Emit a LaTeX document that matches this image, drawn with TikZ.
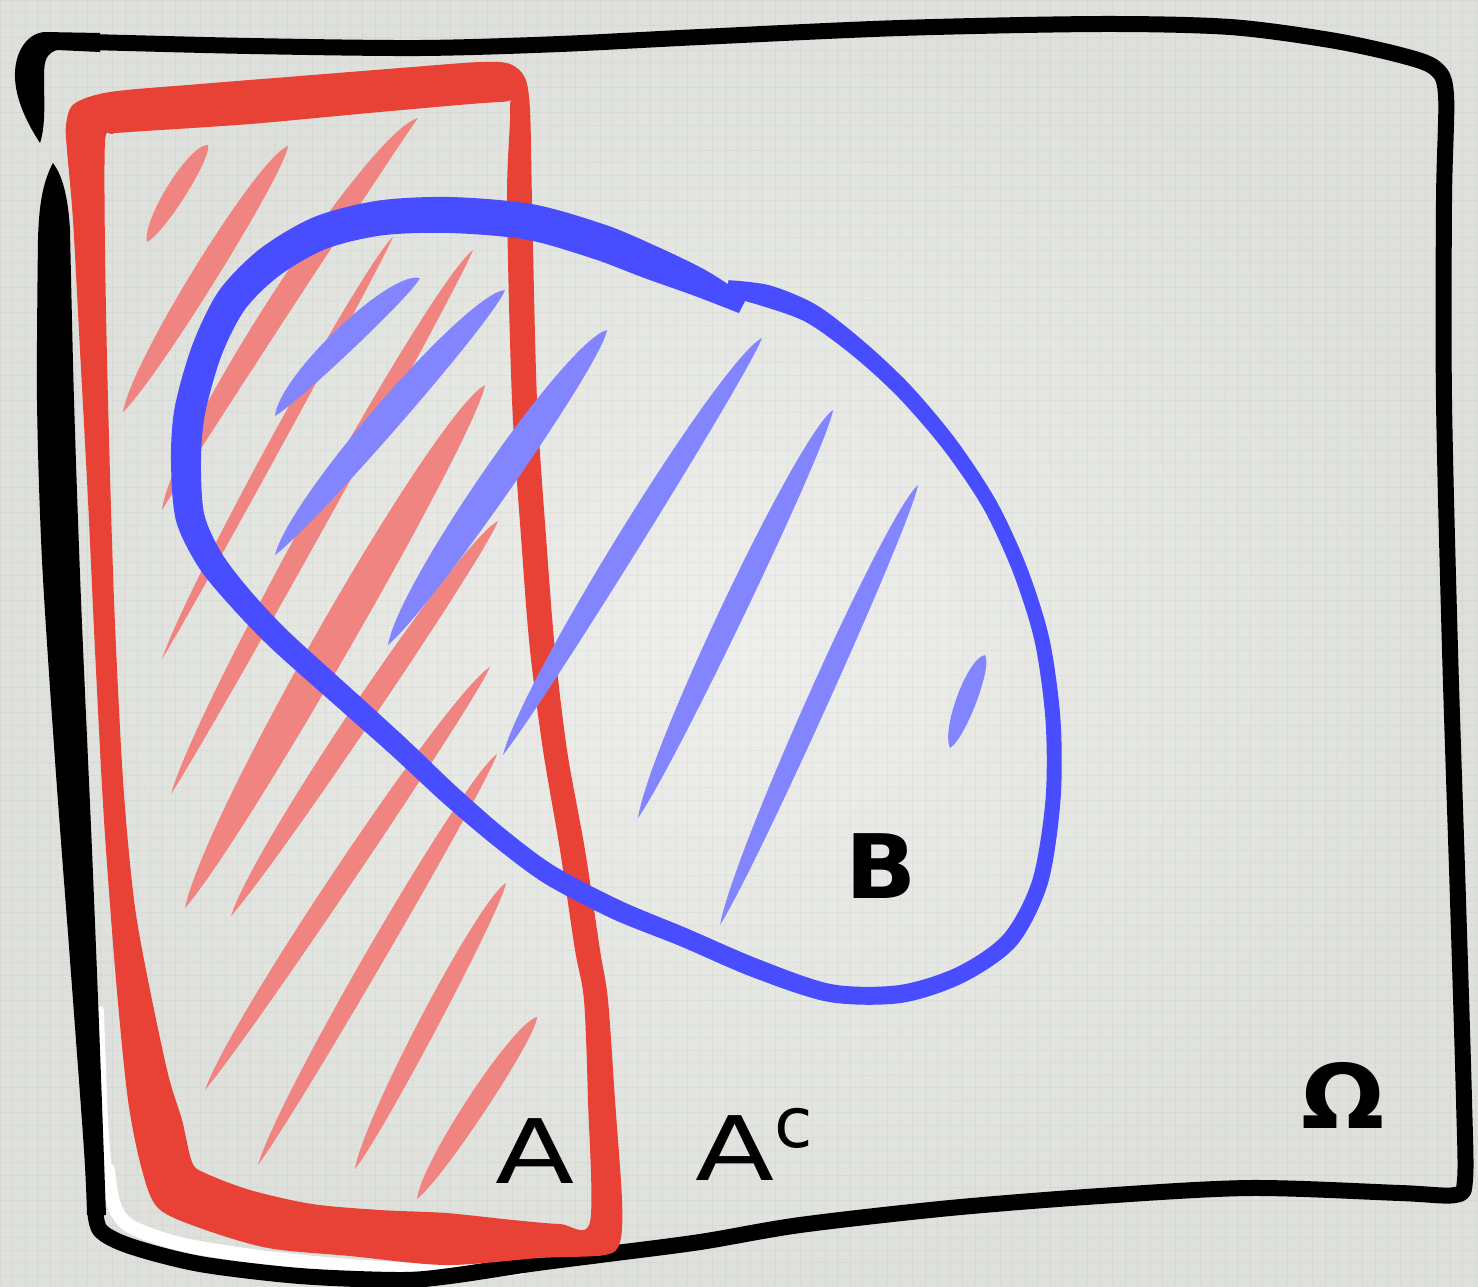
\documentclass[tikz,border=0pt]{standalone}
\usepackage{fontspec}
\newfontfamily\hand{DejaVu Sans}
\usetikzlibrary{calc}
\definecolor{bgin}{HTML}{EEEFEC}
\definecolor{bgout}{HTML}{DEE0DB}
\definecolor{redA}{HTML}{E84135}
\definecolor{pinkA}{HTML}{EF8480}
\definecolor{blueB}{HTML}{484DFF}
\definecolor{lblue}{HTML}{8385FF}
% tapered brush stroke: colour, upper end, lower end, max thickness, bend
\newcommand{\hatchstroke}[5]{%
 \pgfmathsetmacro\hsup{#5+#4/1.5}%
 \pgfmathsetmacro\hsdn{#5-#4/1.5}%
 \fill[#1] (#2) .. controls ($(#2)!0.08!(#3)!\hsup pt!90:(#3)$) and ($(#2)!0.85!(#3)!\hsup pt!90:(#3)$) .. (#3)
   .. controls ($(#2)!0.85!(#3)!\hsdn pt!90:(#3)$) and ($(#2)!0.08!(#3)!\hsdn pt!90:(#3)$) .. cycle;%
}
\tikzset{
  frameline/.style={draw=black, line width=16, line cap=round, line join=round},
  gridline/.style={draw=black, opacity=0.03, line width=0.8},
  lbl/.style={font=\hand\fontsize{89}{89}\selectfont, inner sep=0pt, text=black, anchor=base}
}
\begin{document}
\begin{tikzpicture}[x=1pt,y=-1pt]
\useasboundingbox (0,0) rectangle (1478,1286);
\shade[inner color=bgin, outer color=bgout] (0,0) rectangle (1478,1286);
\draw[gridline, step=12.5pt] (0,0) grid (1478,1286);

% white highlight at lower left
\draw[white, line width=8, line cap=round] plot[smooth, tension=0.5] coordinates {(100,1010) (104,1120) (110,1195)};
\draw[white, line width=14, line cap=round] plot[smooth, tension=0.5] coordinates {(108,1170) (114,1205) (130,1226) (180,1244) (260,1257) (350,1266) (450,1271) (520,1268)};

% ---- Omega frame ----
\fill[black] (40,143) .. controls (25,120) and (14,95) .. (15,72) .. controls (16,50) and (28,33) .. (45,32) -- (100,33) -- (100,52) -- (57,50) .. controls (47,53) and (44,60) .. (44,75) .. controls (44,100) and (46,125) .. (40,143) -- cycle;
\draw[frameline] plot[smooth, tension=0.5] coordinates {(90,42) (250,46) (420,48) (560,44) (700,37) (900,28) (1100,24) (1230,27) (1330,40) (1400,55) (1435,68) (1446,95) (1444,200) (1444,400) (1450,650) (1458,900) (1464,1100) (1465,1180) (1455,1195) (1400,1193) (1250,1188) (1100,1196) (950,1208) (800,1225) (700,1242) (600,1255) (530,1264) (450,1276) (400,1280) (300,1276) (200,1264) (130,1246) (100,1230) (95,1205)};
\fill[black] (53,163) .. controls (44,180) and (39,200) .. (38,240)
  -- plot[smooth] coordinates {(38,240) (37,400) (42,560) (55,760) (70,960) (84,1150) (87,1215)}
  -- (106,1215)
  -- plot[smooth] coordinates {(106,1215) (100,1050) (92,850) (81,600) (74,400) (70,230)}
  .. controls (68,195) and (62,175) .. (53,163) -- cycle;

% ---- pink hatching of A ----
\hatchstroke{pinkA}{208,145}{147,242}{20}{-3}
\hatchstroke{pinkA}{288,146}{123,412}{24}{-4}
\hatchstroke{pinkA}{418,118}{162,510}{24}{-18}
\hatchstroke{pinkA}{393,237}{162,659}{13}{-5}
\hatchstroke{pinkA}{473,250}{171,794}{21}{-8}
\hatchstroke{pinkA}{485,385}{185,908}{36}{-6}
\hatchstroke{pinkA}{498,521}{231,916}{23}{-6}
\hatchstroke{pinkA}{490,667}{205,1090}{21}{-6}
\hatchstroke{pinkA}{497,754}{258,1165}{19}{-5}
\hatchstroke{pinkA}{506,883}{355,1169}{19}{-4}
\hatchstroke{pinkA}{537,1017}{417,1199}{21}{-3}

% ---- red outline of A ----
\fill[redA, even odd rule]
 plot[smooth cycle, tension=0.5] coordinates {(66,125) (74,104) (110,92) (200,84) (300,76) (400,68) (480,62) (510,64) (525,78) (530,110) (532,200) (537,400) (547,550) (555,650) (567,750) (585,850) (600,950) (608,1000) (615,1100) (622,1200) (620,1242) (605,1255) (540,1258) (446,1265) (350,1256) (268,1248) (200,1228) (158,1208) (142,1170) (128,1100) (116,980) (104,820) (95,650) (88,500) (80,350) (73,220) (67,150)}
 plot[smooth cycle, tension=0.5] coordinates {(105,142) (112,134) (130,132) (250,124) (380,112) (500,102) (510,108) (507,200) (512,400) (522,550) (530,650) (543,750) (560,850) (575,950) (584,1000) (588,1100) (590,1222) (560,1224) (513,1220) (446,1213) (380,1210) (312,1204) (250,1190) (205,1173) (192,1162) (182,1120) (168,1074) (148,980) (134,900) (123,780) (114,600) (108,400) (105,250)};

% ---- light blue hatching of B ----
\hatchstroke{lblue}{420,278}{275,416}{25}{-10}
\hatchstroke{lblue}{505,290}{275,555}{29}{-8}
\hatchstroke{lblue}{607,330}{388,645}{32}{-6}
\hatchstroke{lblue}{762,338}{503,755}{24}{-8}
\hatchstroke{lblue}{833,410}{638,818}{24}{-5}
\hatchstroke{lblue}{918,485}{720,925}{21}{-4}
\hatchstroke{lblue}{985,655}{950,748}{20}{-2}

% ---- blue outline of B : variable-width brush band ----
\foreach \i/\x/\y in {1/743/305, 2/700/283, 3/650/262, 4/600/242, 5/530/222, 6/450/215, 7/380/218, 8/320/233, 9/270/262, 10/232/300,
  11/207/350, 12/190/410, 13/186/460, 14/190/517, 15/210/560, 16/240/598, 17/280/640, 18/350/703, 19/400/748, 20/450/795,
  21/500/838, 22/550/875, 23/617/910, 24/683/937, 25/755/968, 26/830/993, 27/900/994, 28/960/975, 29/1010/940, 30/1040/882,
  31/1053/800, 32/1053/720, 33/1042/640, 34/1020/570, 35/990/505, 36/950/445, 37/905/392, 38/860/350, 39/812/314, 40/767/296, 41/727/288}
  {\coordinate (P\i) at (\x,\y);}
\foreach \i/\h in {1/9, 2/14, 3/17, 4/18, 5/18, 6/18, 7/17.5, 8/17, 9/16.5, 10/16, 11/15.5, 12/15.5, 13/15, 14/14.5, 15/13.5, 16/12.5,
  17/12, 18/11.5, 19/11, 20/10.5, 21/10, 22/10, 23/10, 24/9.5, 25/9.5, 26/9, 27/9, 28/8.5, 29/8.5, 30/8, 31/7.5, 32/7.5, 33/7.5,
  34/7.5, 35/7.5, 36/8, 37/8.5, 38/9, 39/10, 40/11, 41/8}
  {\pgfmathtruncatemacro\pp{max(\i-1,1)}
   \pgfmathtruncatemacro\nn{min(\i+1,41)}
   \coordinate (O\i) at ($(P\i)!\h pt!90:($(P\i)+(P\nn)-(P\pp)$)$);
   \coordinate (I\i) at ($(P\i)!\h pt!-90:($(P\i)+(P\nn)-(P\pp)$)$);}
\fill[blueB] plot[smooth, tension=0.5] coordinates {(O1) (O2) (O3) (O4) (O5) (O6) (O7) (O8) (O9) (O10) (O11) (O12) (O13) (O14) (O15) (O16) (O17) (O18) (O19) (O20) (O21) (O22) (O23) (O24) (O25) (O26) (O27) (O28) (O29) (O30) (O31) (O32) (O33) (O34) (O35) (O36) (O37) (O38) (O39) (O40) (O41)}
  -- plot[smooth, tension=0.5] coordinates {(I41) (I40) (I39) (I38) (I37) (I36) (I35) (I34) (I33) (I32) (I31) (I30) (I29) (I28) (I27) (I26) (I25) (I24) (I23) (I22) (I21) (I20) (I19) (I18) (I17) (I16) (I15) (I14) (I13) (I12) (I11) (I10) (I9) (I8) (I7) (I6) (I5) (I4) (I3) (I2) (I1)} -- cycle;

% ---- labels ----
\node[lbl] (labA) at (535,1183) {\scalebox{1.3}[1]{A}};
\node[lbl] (labAc) at (754,1180) {\scalebox{1.3}[1]{A}\raisebox{33pt}{\fontsize{70}{70}\selectfont c}};
\node[lbl] (labB) at (881,898) {\bfseries\scalebox{1.05}[1]{B}};
\node[lbl] (labO) at (1343,1128) {\bfseries\scalebox{1.1}[1]{Ω}};
\end{tikzpicture}
\end{document}
